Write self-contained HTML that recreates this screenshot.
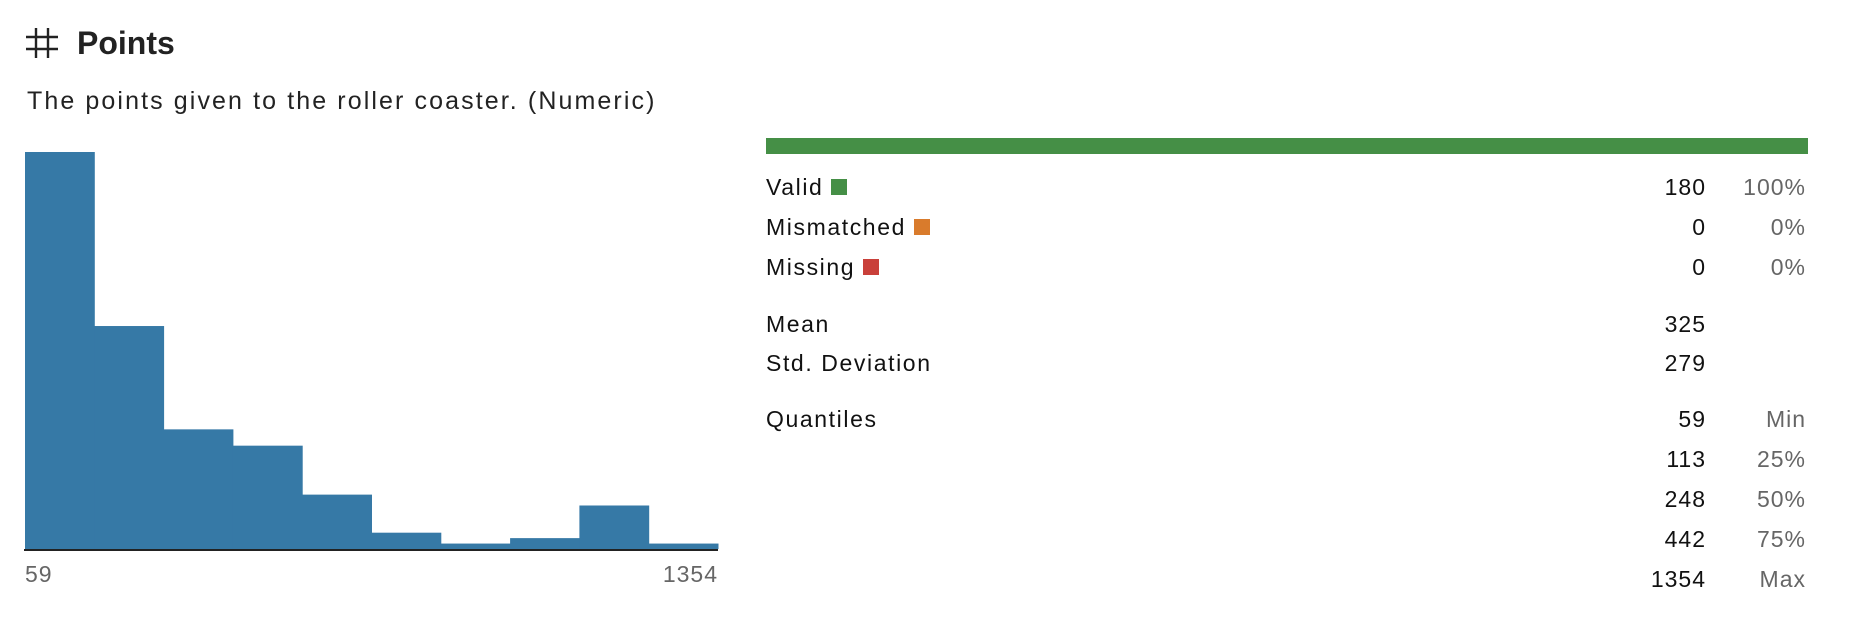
<!DOCTYPE html>
<html><head><meta charset="utf-8"><style>
body{margin:0;width:1862px;height:624px;background:#fff;font-family:"Liberation Sans",sans-serif;overflow:hidden;position:relative}
.a{position:absolute;white-space:nowrap;line-height:1}
.lbl{left:766px;font-size:23px;color:#111;letter-spacing:1.6px}
.num{font-size:23px;color:#111;right:156px;text-align:right;letter-spacing:1px}
.pct{font-size:23px;color:#666;right:56px;text-align:right;letter-spacing:1px}
.sq{display:inline-block;width:16px;height:16px;margin-left:8px;vertical-align:0px}
</style></head><body>
<svg class="a" style="left:26px;top:28px" width="32" height="30">
<g stroke="#222" stroke-width="2.4"><line x1="10" y1="0" x2="10" y2="30"/><line x1="22" y1="0" x2="22" y2="30"/><line x1="0" y1="9" x2="32" y2="9"/><line x1="0" y1="21" x2="32" y2="21"/></g></svg>
<div class="a" style="left:77px;top:27px;font-size:32px;font-weight:bold;color:#222">Points</div>
<div class="a" style="left:27px;top:89px;font-size:25px;color:#222;letter-spacing:2.1px">The points given to the roller coaster. (Numeric)</div>
<svg id="hist" style="position:absolute;left:0;top:0" width="740" height="624"></svg>
<div class="a" style="left:766px;top:138px;width:1042px;height:16px;background:#458f46"></div>
<div class="a lbl" style="top:176px">Valid<span class="sq" style="background:#458f46"></span></div>
<div class="a num" style="top:176px">180</div>
<div class="a pct" style="top:176px">100%</div>
<div class="a lbl" style="top:216px">Mismatched<span class="sq" style="background:#d97b2c"></span></div>
<div class="a num" style="top:216px">0</div>
<div class="a pct" style="top:216px">0%</div>
<div class="a lbl" style="top:256px">Missing<span class="sq" style="background:#c9403a"></span></div>
<div class="a num" style="top:256px">0</div>
<div class="a pct" style="top:256px">0%</div>
<div class="a lbl" style="top:313px">Mean</div>
<div class="a num" style="top:313px">325</div>
<div class="a lbl" style="top:352px">Std. Deviation</div>
<div class="a num" style="top:352px">279</div>
<div class="a lbl" style="top:408px">Quantiles</div>
<div class="a num" style="top:408px">59</div>
<div class="a pct" style="top:408px">Min</div>
<div class="a num" style="top:448px">113</div>
<div class="a pct" style="top:448px">25%</div>
<div class="a num" style="top:488px">248</div>
<div class="a pct" style="top:488px">50%</div>
<div class="a num" style="top:528px">442</div>
<div class="a pct" style="top:528px">75%</div>
<div class="a num" style="top:568px">1354</div>
<div class="a pct" style="top:568px">Max</div>
<script>
const counts=[73,41,22,19,10,3,1,2,8,1];
const tickLabels=["59","1354"];
(function(){
const NS="http://www.w3.org/2000/svg";
const svg=document.getElementById('hist');
const x0=25,x1=718,base=549,yTop=152;
const maxC=Math.max(...counts);
const bw=(x1-x0)/counts.length;
const y=v=>base-(v/maxC)*(base-yTop);
counts.forEach((c,i)=>{
  const r=document.createElementNS(NS,'rect');
  
  
  r.setAttribute('x',x0+i*bw);r.setAttribute('width',bw+0.5);
  r.setAttribute('y',y(c));r.setAttribute('height',base-y(c));
  r.setAttribute('fill','#3679a6');svg.appendChild(r);
});
const l=document.createElementNS(NS,'line');


l.setAttribute('x1',x0-1);l.setAttribute('x2',x1);l.setAttribute('y1',base+1);l.setAttribute('y2',base+1);
l.setAttribute('stroke','#222');l.setAttribute('stroke-width','2');svg.appendChild(l);
tickLabels.forEach((t,i)=>{
  const tx=document.createElementNS(NS,'text');
  
  
  tx.setAttribute('x',i===0?x0:x1);tx.setAttribute('y',582);
  tx.setAttribute('text-anchor',i===0?'start':'end');
  tx.setAttribute('font-size','23');tx.setAttribute('fill','#666');
  tx.setAttribute('letter-spacing','1');
  tx.setAttribute('font-family','Liberation Sans, sans-serif');
  tx.textContent=t;svg.appendChild(tx);
});
})();
</script>
</body></html>
